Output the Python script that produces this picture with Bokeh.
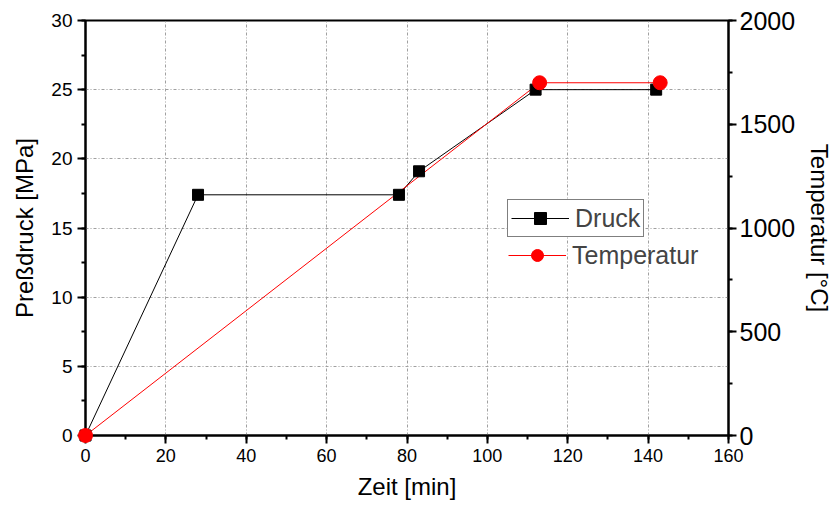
from bokeh.plotting import figure
from bokeh.models import (LinearAxis, Range1d, Legend, LegendItem, SingleIntervalTicker)
from bokeh.embed import file_html
from bokeh.resources import INLINE

zeit_druck = [0, 28, 78, 83, 112, 142]
druck = [0, 17.4, 17.4, 19.1, 25, 25]
zeit_temp = [0, 113, 143]
temperatur = [0, 1700, 1700]

FONT = "Liberation Sans"

p = figure(output_backend="svg", toolbar_location=None,
           frame_width=643, frame_height=415,
           min_border_left=85, min_border_right=98, min_border_top=20, min_border_bottom=68,
           x_range=Range1d(0, 160), y_range=Range1d(0, 30))
p.extra_y_ranges = {"temp": Range1d(0, 2000)}
p.outline_line_color = "black"
p.outline_line_width = 2
p.background_fill_color = "white"
p.border_fill_color = "white"

def style_axis(ax, size="17px"):
    ax.axis_line_width = 2
    ax.axis_line_color = "black"
    ax.major_tick_line_width = 2
    ax.minor_tick_line_width = 2
    ax.major_tick_out = 8
    ax.major_tick_in = 0
    ax.minor_tick_out = 4
    ax.minor_tick_in = 0
    ax.major_label_text_font = FONT
    ax.major_label_text_font_size = size
    ax.major_label_text_color = "black"
    ax.axis_label_text_font = FONT
    ax.axis_label_text_font_size = "24px"
    ax.axis_label_text_font_style = "normal"
    ax.axis_label_text_color = "black"

xa = p.xaxis[0]
xa.ticker = SingleIntervalTicker(interval=20, num_minor_ticks=2)
xa.axis_label = "Zeit [min]"
style_axis(xa, "18px")
xa.major_label_standoff = 5
xa.axis_label_standoff = 8

ya = p.yaxis[0]
ya.ticker = SingleIntervalTicker(interval=5, num_minor_ticks=2)
ya.axis_label = "Preßdruck [MPa]"
style_axis(ya, "19px")
ya.major_label_standoff = 5
ya.axis_label_standoff = 10

ra = LinearAxis(y_range_name="temp", ticker=SingleIntervalTicker(interval=500, num_minor_ticks=2),
                axis_label="Temperatur [°C]")
style_axis(ra, "25px")
ra.major_label_standoff = 3
ra.axis_label_standoff = 8
p.add_layout(ra, "right")

for g in (p.xgrid[0], p.ygrid[0]):
    g.grid_line_color = "#a0a0a0"
    g.grid_line_dash = "3 2 1 2"
    g.grid_line_width = 1

l1 = p.line(zeit_druck, druck, line_color="black", line_width=1)
s1 = p.scatter(zeit_druck, druck, marker="square", size=11, fill_color="black", line_color="black",
               level="overlay")
l2 = p.line(zeit_temp, temperatur, line_color="red", line_width=1, y_range_name="temp")
s2 = p.scatter(zeit_temp, temperatur, marker="circle", size=14, fill_color="red", line_color="red",
               y_range_name="temp", level="overlay")

leg1 = Legend(items=[LegendItem(label="Druck", renderers=[l1, s1])], location=(422, 198),
              border_line_color="black", border_line_width=1.5, glyph_width=58, glyph_height=30,
              label_text_font=FONT, label_text_font_size="25px", padding=3, margin=0,
              label_standoff=6, background_fill_alpha=1, label_height=30)
leg2 = Legend(items=[LegendItem(label="Temperatur", renderers=[l2, s2])], location=(420, 162),
              border_line_alpha=0, glyph_width=58, glyph_height=30,
              label_text_font=FONT, label_text_font_size="25px", padding=3, margin=0,
              label_standoff=6, background_fill_alpha=0, label_height=30)
p.add_layout(leg1, "center")
p.add_layout(leg2, "center")

open("out.html", "w").write(file_html(p, INLINE))
